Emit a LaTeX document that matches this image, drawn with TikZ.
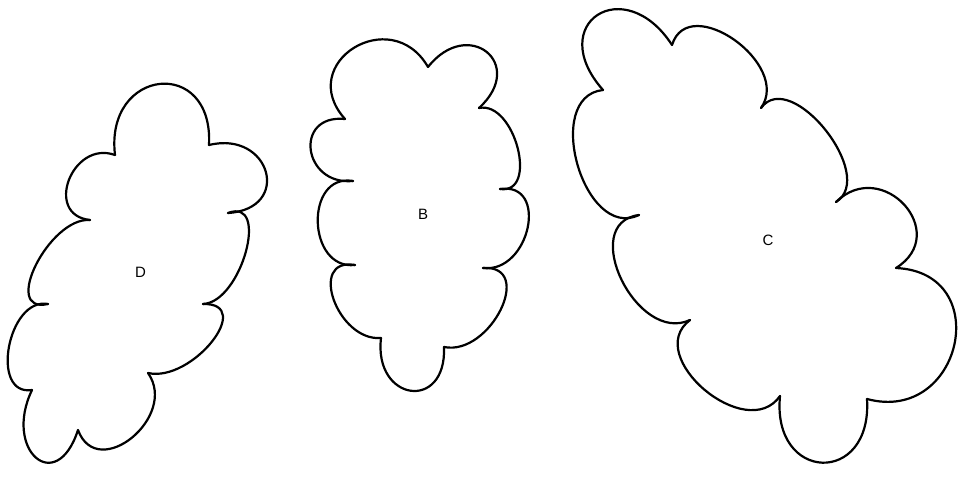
\documentclass[tikz,border=0pt]{standalone}
\usepackage{fontspec}
\setmainfont{Liberation Sans}
\usetikzlibrary{calc}
\tikzset{
  cloudline/.style={draw=black, line width=2.2pt, line cap=round, line join=round},
  cloudlabel/.style={font=\fontsize{15}{17}\selectfont, inner sep=0pt}
}
% one puff from cusp #1 through peak #2 to cusp #3
\newcommand{\puff}[3]{\draw[cloudline] (#1) .. controls ($0.413*(#1)+1.333*(#2)-0.747*(#3)$) and ($0.413*(#3)+1.333*(#2)-0.747*(#1)$) .. (#3);}
\begin{document}
\begin{tikzpicture}[x=1pt,y=-1pt]
\useasboundingbox (0,0) rectangle (960,481);
% Cloud D
\puff{115,155}{160,84}{209,145}
\puff{209,145}{266,172}{228,213}
\puff{228,213}{246,252}{203,304}
\puff{203,304}{212,342}{148,373}
\puff{148,373}{132,438}{78,430}
\puff{78,430}{36,458}{32,390}
\puff{32,390}{9,347}{48,304}
\puff{48,304}{36,265}{90,220}
\puff{90,220}{69,180}{115,155}
\node[cloudlabel] (D) at (140.5,272) {D};
% Cloud B
\puff{345,119}{354,48}{428,67}
\puff{428,67}{487,52}{479,108}
\puff{479,108}{518,148}{500,189}
\puff{500,189}{528,228}{483,268}
\puff{483,268}{501,310}{444,347}
\puff{444,347}{411,391}{381,338}
\puff{381,338}{334,300}{355,265}
\puff{355,265}{318,222}{353,181}
\puff{353,181}{311,150}{345,119}
\node[cloudlabel] (B) at (423,214.5) {B};
% Cloud C
\puff{603,90}{598,15}{672,45}
\puff{672,45}{735,40}{761,108}
\puff{761,108}{826,130}{836,202}
\puff{836,202}{905,205}{896,268}
\puff{896,268}{955,345}{867,399}
\puff{867,399}{823,463}{780,396}
\puff{780,396}{705,390}{690,320}
\puff{690,320}{622,280}{639,215}
\puff{639,215}{578,165}{603,90}
\node[cloudlabel] (C) at (768,240) {C};
\end{tikzpicture}
\end{document}
